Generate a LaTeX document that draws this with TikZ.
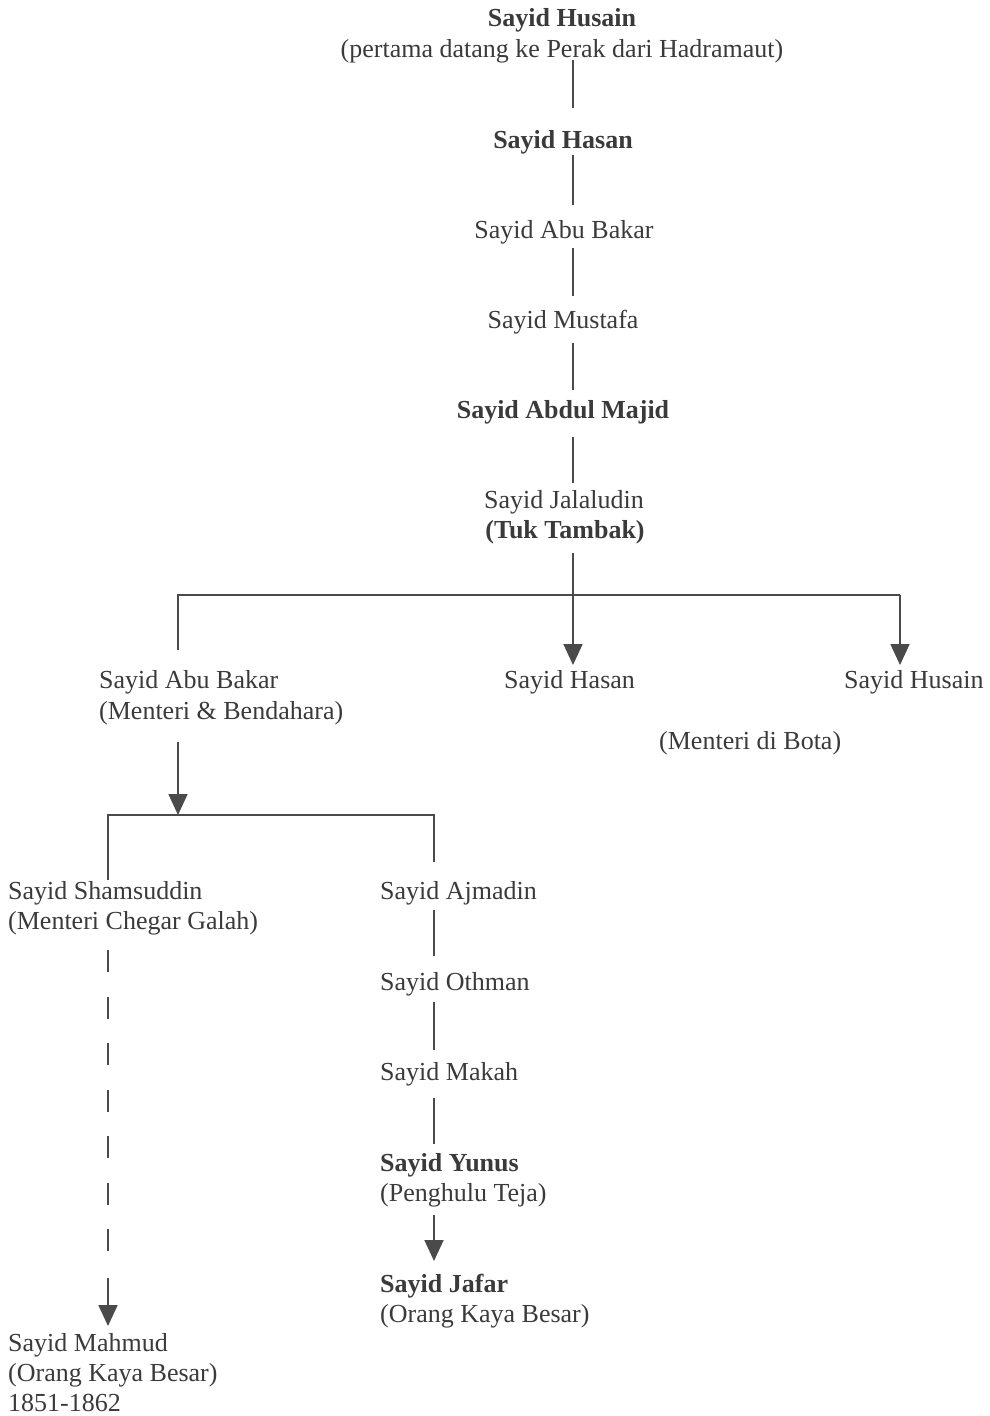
\documentclass[tikz,border=0pt]{standalone}
\usepackage{fontspec}
\setmainfont{Liberation Serif}
\usetikzlibrary{arrows.meta}
\definecolor{txt}{HTML}{3A3A3A}
\definecolor{lnc}{HTML}{4A4A4A}
\begin{document}
\begin{tikzpicture}[x=1pt,y=-1pt,
  t/.style={anchor=base,inner sep=0pt,text=txt,font=\fontsize{26}{30}\selectfont},
  tb/.style={t,font=\fontsize{26}{30}\selectfont\bfseries},
  tl/.style={t,anchor=base west},
  tlb/.style={tb,anchor=base west},
  ln/.style={draw=lnc,line width=1.8pt},
  arr/.style={ln,-{Triangle[length=21pt,width=19pt]}}]
\useasboundingbox (0,0) rectangle (989,1416);
% coordinates for connector columns
\coordinate (sp) at (573,0);
\coordinate (jl) at (178,595);
\coordinate (jr) at (900,595);
\coordinate (jb) at (178,815);
\coordinate (kl) at (108,815);
\coordinate (kr) at (434,815);
% main line
\node[tb] (n1a) at (562,27) {Sayid Husain};
\node[t] (n1b) at (562,57) {(pertama datang ke Perak dari Hadramaut)};
\node[tb] (n2) at (563,148) {Sayid Hasan};
\node[t] (n3) at (564,238) {Sayid Abu Bakar};
\node[t] (n4) at (563,328) {Sayid Mustafa};
\node[tb] (n5) at (563,418) {Sayid Abdul Majid};
\node[t] (n6a) at (564,508) {Sayid Jalaludin};
\node[tb] (n6b) at (565,538) {(Tuk Tambak)};
% children
\node[tl] (c1a) at (99,688) {Sayid Abu Bakar};
\node[tl] (c1b) at (99,719) {(Menteri \& Bendahara)};
\node[tl] (c2) at (504,688) {Sayid Hasan};
\node[tl] (c3) at (844,688) {Sayid Husain};
\node[tl] (c3b) at (659,749) {(Menteri di Bota)};
% connectors
\draw[ln] ([yshift=-3pt]n1b.base -| sp) -- ([yshift=40pt]n2.base -| sp);
\draw[ln] ([yshift=-7pt]n2.base -| sp) -- ([yshift=33pt]n3.base -| sp);
\draw[ln] ([yshift=-10pt]n3.base -| sp) -- ([yshift=32pt]n4.base -| sp);
\draw[ln] ([yshift=-15pt]n4.base -| sp) -- ([yshift=28pt]n5.base -| sp);
\draw[ln] ([yshift=-19pt]n5.base -| sp) -- ([yshift=25pt]n6a.base -| sp);
\draw[arr] ([yshift=-15pt]n6b.base -| sp) -- ([yshift=23pt]c2.base -| sp);
\draw[ln] ([yshift=38pt]c1a.base -| jl) -- (jl) -- (jr);
\draw[arr] (jr) -- ([yshift=23pt]c3.base -| jr);
\draw[arr] ([yshift=-23pt]c1b.base -| jl) -- (jb);
% second generation
\node[tl] (a1) at (380,899) {Sayid Ajmadin};
\node[tl] (a2) at (380,990) {Sayid Othman};
\node[tl] (a3) at (380,1080) {Sayid Makah};
\node[tlb] (a4a) at (380,1171) {Sayid Yunus};
\node[tl] (a4b) at (380,1201) {(Penghulu Teja)};
\node[tlb] (a5a) at (380,1292) {Sayid Jafar};
\node[tl] (a5b) at (380,1322) {(Orang Kaya Besar)};
\draw[ln] ([yshift=19pt]a1.base -| kl) -- (kl) -- (kr) -- ([yshift=37pt]a1.base -| kr);
\node[tl] (s1a) at (8,899) {Sayid Shamsuddin};
\node[tl] (s1b) at (8,929) {(Menteri Chegar Galah)};
\node[tl] (m1) at (8,1351) {Sayid Mahmud};
\node[tl] (m2) at (8,1381) {(Orang Kaya Besar)};
\node[tl] (m3) at (8,1411) {1851-1862};
\draw[ln,dash pattern=on 22pt off 24.5pt] ([yshift=-21pt]s1b.base -| kl) -- ([yshift=96pt]m1.base -| kl);
\draw[arr] ([yshift=73pt]m1.base -| kl) -- ([yshift=25pt]m1.base -| kl);
\draw[ln] ([yshift=-11pt]a1.base -| kr) -- ([yshift=34pt]a2.base -| kr);
\draw[ln] ([yshift=-12pt]a2.base -| kr) -- ([yshift=30pt]a3.base -| kr);
\draw[ln] ([yshift=-18pt]a3.base -| kr) -- ([yshift=27pt]a4a.base -| kr);
\draw[arr] ([yshift=-14pt]a4b.base -| kr) -- ([yshift=31pt]a5a.base -| kr);
\end{tikzpicture}
\end{document}
